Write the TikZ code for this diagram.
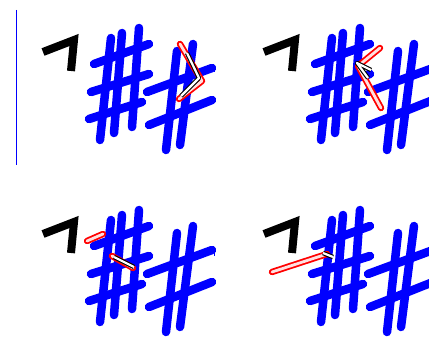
\documentclass[tikz,border=0pt]{standalone}
\usepackage{tikz}
\tikzset{
  stroke/.style={blue, line width=8.5pt, line cap=round},
  hook/.style={black, line width=8pt, line join=miter},
  link/.style={draw=red, line width=1.8pt, double=red!12, double distance=2.8pt, line join=round, line cap=round},
  goal/.style={draw=black, line width=1.1pt, double=white, double distance=2.2pt, line join=round},
  rule/.style={blue, line width=0.8pt}}
\begin{document}
\begin{tikzpicture}[x=1pt, y=-1pt]
  \useasboundingbox (0,0) rectangle (429,337);
  \clip (0,0) rectangle (429,337);
  \draw[rule] (16,10) -- (16,165);
  \draw[rule] (214,68) -- (214,72);
  \draw[rule] (214,251) -- (214,256);
  % the same hook and hashes in all four panels
  \foreach \dx/\dy in {0/0, 221/0, 0/182, 221/182} {
    \begin{scope}[shift={(\dx,\dy)}]
      \draw[hook] (43,52) -- (74,40) -- (71,71);
      \draw[stroke] (111,38) -- (100,140);
      \draw[stroke] (122,33) -- (114,133);
      \draw[stroke] (139,28) -- (132,127);
      \draw[stroke] (94,64) -- (149,44);
      \draw[stroke] (91,92) -- (149,74);
      \draw[stroke] (89,119) -- (142,102);
      \draw[stroke] (177,51) -- (166,150);
      \draw[stroke] (193,44) -- (180,145);
      \draw[stroke] (147,92) -- (212,68);
      \draw[stroke] (149,125) -- (212,100);
    \end{scope}
  }
  % panel 1
  \draw[link] (180,44) -- (202,81) -- (179,99);
  \draw[goal] (187,53) -- (199,78) -- (181,96);
  % panel 2
  \draw[link] (380,48) -- (358,66) -- (381,108);
  \draw[goal] (371,70) -- (357,63) -- (368,78);
  % panel 3
  \draw[link] (87,241) -- (103,234);
  \draw[link] (112,256) -- (133,268);
  \draw[goal] (114,257) -- (134,267);
  % panel 4
  \draw[link] (272,272) -- (327,254);
  \draw[goal] (323,253) -- (333,257);
\end{tikzpicture}
\end{document}
